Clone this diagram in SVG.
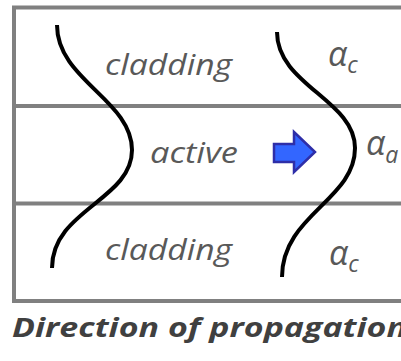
<svg xmlns="http://www.w3.org/2000/svg" width="401" height="361" viewBox="0 0 401 361">
<style>
.frame{fill:none;stroke:#808080;stroke-width:4}
.div{stroke:#808080;stroke-width:4}
.mode{fill:none;stroke:#000;stroke-width:4;stroke-linecap:butt}
.lbl{font-family:'Open Sans','Noto Sans',sans-serif;font-style:italic;font-size:30px;fill:#595959}
.alpha{font-family:'Open Sans','Noto Sans',sans-serif;font-style:italic;font-size:34px;fill:#595959}
.sub{font-size:23px}
.title{font-family:'Open Sans','Noto Sans',sans-serif;font-style:italic;font-weight:bold;font-size:27px;fill:#404040}
</style>
<g id="waveguide">
<rect class="frame" x="14" y="7.5" width="400" height="293.5"/>
<line class="div" x1="14" y1="106" x2="401" y2="106"/>
<line class="div" x1="14" y1="203.5" x2="401" y2="203.5"/>
</g>
<g id="layer-top">
<text class="lbl" x="105" y="75" textLength="127" lengthAdjust="spacingAndGlyphs">cladding</text>
<text class="alpha" x="328" y="66">α<tspan class="sub" dy="7">c</tspan></text>
</g>
<g id="layer-active">
<text class="lbl" x="150" y="163" textLength="88" lengthAdjust="spacingAndGlyphs">active</text>
<text class="alpha" x="366" y="155">α<tspan class="sub" dy="8">a</tspan></text>
</g>
<g id="layer-bottom">
<text class="lbl" x="105" y="260" textLength="127" lengthAdjust="spacingAndGlyphs">cladding</text>
<text class="alpha" x="329" y="265">α<tspan class="sub" dy="7">c</tspan></text>
</g>
<g id="arrow">
<path d="M274,144 H294 V132 L315,152 L294,172 V162 H274 Z" fill="#3366ff" stroke="#2e2ea8" stroke-width="2.5" stroke-linejoin="miter"/>
</g>
<g id="connectors">
<path class="mode" d="M57,25 C57,80 132,100 132,150 C132,200 52,210 52,268"/>
<path class="mode" d="M277,32 C277,85 355,100 355,148 C355,200 282,215 282,277"/>
</g>
<g id="caption">
<text class="title" x="12" y="337" textLength="395" lengthAdjust="spacingAndGlyphs">Direction of propagation</text>
</g>
</svg>
